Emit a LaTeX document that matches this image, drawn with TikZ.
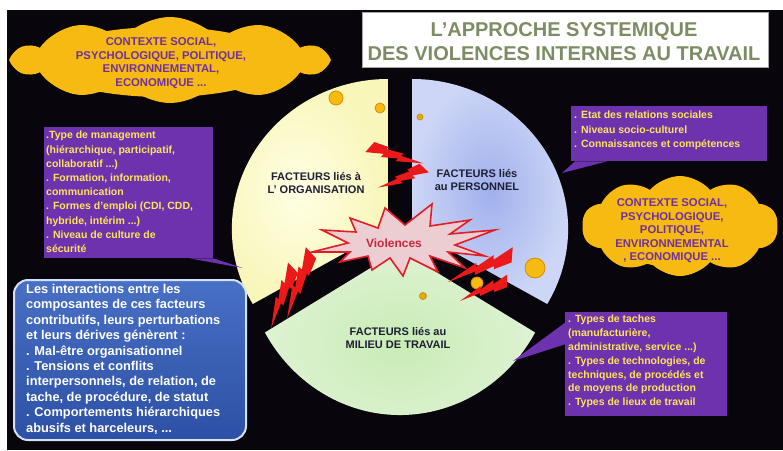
\documentclass[tikz,border=0pt]{standalone}
\usepackage{fontspec}
\setmainfont{Liberation Sans}
\usetikzlibrary{shapes.symbols,calc}
\definecolor{bgc}{RGB}{8,6,12}
\definecolor{gold}{RGB}{246,186,16}
\definecolor{goldline}{RGB}{215,140,10}
\definecolor{cloudpurple}{RGB}{112,48,160}
\definecolor{boxpurple}{RGB}{110,50,175}
\definecolor{ytxt}{RGB}{255,228,90}
\definecolor{titletxt}{RGB}{125,140,100}
\definecolor{labeltxt}{RGB}{30,30,50}
\definecolor{boltred}{RGB}{235,25,25}
\definecolor{starfill}{RGB}{236,205,210}
\definecolor{starline}{RGB}{225,30,40}
\definecolor{startxt}{RGB}{200,40,60}
\tikzset{
  cloudtxt/.style={align=center, text=cloudpurple, font=\fontsize{11.3}{13.5}\selectfont\bfseries, inner sep=0pt},
  ytext/.style={align=left, text=ytxt, font=\fontsize{10.5}{14.2}\selectfont\bfseries, inner sep=0pt, anchor=north west},
  pboxshape/.style={fill=boxpurple, draw=none, anchor=north west, inner sep=0pt},
  goldcloud/.style={cloud, cloud puffs=10, cloud puff arc=100, fill=gold, draw=none, inner sep=0pt},
  piefont/.style={align=center, text=labeltxt, font=\fontsize{11}{12.5}\selectfont\bfseries, inner sep=0pt},
  golddot/.style={circle, fill=gold, draw=goldline, line width=0.8pt, inner sep=0pt},
  boltpic/.pic={\fill[boltred] (0.048,-0.167) -- (-0.053,0.173) -- (0.268,0.071) -- (0.240,0.178) -- (0.538,0.077) -- (0.514,0.166) -- (1,0) -- (0.578,-0.019) -- (0.603,-0.097) -- (0.299,-0.078) -- (0.318,-0.149) -- cycle;}
}
\begin{document}
\begin{tikzpicture}[x=1pt,y=-1pt]
\useasboundingbox (0,0) rectangle (783,450);
\fill[white] (0,0) rectangle (783,450);
\fill[bgc] (7,10) rectangle (783,450);

% title
\node[draw=gray!70, line width=1pt, fill=white, minimum width=406pt, minimum height=55pt, anchor=north west, inner sep=0pt] (titlebox) at (362,12) {};
\node[text=titletxt, font=\fontsize{20}{24}\selectfont\bfseries, inner sep=0pt] (title1) at (564,31) {L’APPROCHE SYSTEMIQUE};
\node[text=titletxt, font=\fontsize{20}{24}\selectfont\bfseries, inner sep=0pt] (title2) at (564,54) {DES VIOLENCES INTERNES AU TRAVAIL};

% top-left cloud
\node[goldcloud, minimum width=312pt, minimum height=86pt] (cloudA) at (170,60) {};
\fill[gold] (163,62) ellipse [x radius=120, y radius=35];
\node[cloudtxt] (cloudAtxt) at (161,63) {CONTEXTE SOCIAL,\\PSYCHOLOGIQUE, POLITIQUE,\\ENVIRONNEMENTAL,\\ECONOMIQUE ...};

% right cloud
\node[goldcloud, minimum width=196pt, minimum height=100pt] (cloudB) at (680,226) {};
\fill[gold] (675,229) ellipse [x radius=70, y radius=38];
\node[cloudtxt] (cloudBtxt) at (672,231) {CONTEXTE SOCIAL,\\PSYCHOLOGIQUE,\\POLITIQUE,\\ENVIRONNEMENTAL\\, ECONOMIQUE ...};

% pie sectors
\coordinate (J) at (400,236);
\coordinate (cy) at ($(J)+(210:14)$);
\coordinate (cb) at ($(J)+(-30:14)$);
\coordinate (cg) at ($(J)+(90:14)$);
\shade[inner color={rgb,255:red,255;green,255;blue,228}, outer color={rgb,255:red,248;green,246;blue,185}]
  (cy) -- ++(150:156 and 150) arc[start angle=150, end angle=270, x radius=156, y radius=150] -- cycle;
\shade[inner color={rgb,255:red,160;green,176;blue,236}, outer color={rgb,255:red,205;green,214;blue,246}]
  (cb) -- ++(-90:156 and 150) arc[start angle=-90, end angle=30, x radius=156, y radius=150] -- cycle;
\shade[inner color={rgb,255:red,200;green,236;blue,182}, outer color={rgb,255:red,222;green,242;blue,210}]
  (cg) -- ++(30:156 and 165) arc[start angle=30, end angle=150, x radius=156, y radius=165] -- cycle;

% gold dots
\node[golddot, minimum size=14pt] (dot1) at (336,98) {};
\node[golddot, minimum size=10pt] (dot2) at (380,108) {};
\node[golddot, minimum size=6pt, fill=gold!80!olive] (dot3) at (420,117) {};
\node[golddot, minimum size=20pt] (dot4) at (535,268) {};
\node[golddot, minimum size=12pt] (dot5) at (477,283) {};
\node[golddot, minimum size=7pt, fill=gold!80!olive] (dot6) at (423,296) {};

% pie labels
\node[piefont] (lblorg) at (316,183) {FACTEURS liés à\\L’ ORGANISATION};
\node[piefont] (lblpers) at (477,180) {FACTEURS liés\\au PERSONNEL};
\node[piefont] (lblmil) at (398,338) {FACTEURS liés au\\MILIEU DE TRAVAIL};

% violences star
\filldraw[fill=starfill, draw=starline, line width=1.6pt, line join=miter]
 (312,252) -- (348,243) -- (322,230) -- (356,232) -- (350,218) -- (378,228) -- (385,208) -- (405,225)
 -- (432,204) -- (430,226) -- (470,220) -- (450,234) -- (495,230) -- (455,245) -- (485,256) -- (448,252)
 -- (465,268) -- (430,256) -- (438,272) -- (410,258) -- (403,276) -- (390,258) -- (372,270) -- (368,256)
 -- (340,262) -- (350,252) -- cycle;
\node[text=startxt, font=\fontsize{12}{14}\selectfont\bfseries, inner sep=0pt] (viol) at (394,243) {Violences};

% bolts (angle measured with y pointing down -> rotate=-angle)
\pic[rotate=-17, xscale=56, yscale=36] (bolt1) at (370,147) {boltpic};
\pic[rotate=-157, xscale=50, yscale=-34] (bolt2) at (424,168) {boltpic};
\pic[rotate=-110, xscale=70, yscale=40] (bolt3) at (311,253) {boltpic};
\pic[rotate=-110, xscale=64, yscale=38] (bolt4) at (293,268) {boltpic};
\pic[rotate=-157, xscale=70, yscale=40] (bolt5) at (512,255) {boltpic};
\pic[rotate=-157, xscale=51, yscale=34] (bolt6) at (507,281) {boltpic};

% left purple box
\node[pboxshape, minimum width=169pt, minimum height=131pt] (boxL) at (44,127) {};
\fill[boxpurple] ($(boxL.south east)+(-24,0)$) -- (243,268) -- (boxL.south east) -- cycle;
\node[ytext] (boxLtxt) at (46,131) {.Type de management\\(hiérarchique, participatif,\\collaboratif ...)\\. Formation, information,\\communication\\. Formes d’emploi (CDI, CDD,\\hybride, intérim ...)\\. Niveau de culture de\\sécurité};

% right purple box
\node[pboxshape, minimum width=196pt, minimum height=55pt] (boxR) at (571,106) {};
\fill[boxpurple] ($(boxR.south west)+(4,0)$) -- (562,173) -- ($(boxR.south west)+(36,0)$) -- cycle;
\node[ytext] (boxRtxt) at (574,111) {. Etat des relations sociales\\. Niveau socio-culturel\\. Connaissances et compétences};

% bottom-right purple box
\node[pboxshape, minimum width=162pt, minimum height=104pt] (boxM) at (565,312) {};
\fill[boxpurple] ($(boxM.north west)+(1,10)$) -- (513,361) -- ($(boxM.north west)+(1,32)$) -- cycle;
\node[ytext, font=\fontsize{10.5}{13.8}\selectfont\bfseries] (boxMtxt) at (568,315) {. Types de taches\\(manufacturière,\\administrative, service ...)\\. Types de technologies, de\\techniques, de procédés et\\de moyens de production\\. Types de lieux de travail};

% bottom-left blue box
\node[anchor=north west, minimum width=232pt, minimum height=160pt, rounded corners=14pt, draw={rgb,255:red,215;green,225;blue,245}, line width=2pt,
  top color={rgb,255:red,72;green,112;blue,196}, bottom color={rgb,255:red,44;green,80;blue,165}, inner sep=0pt] (boxB) at (13,279) {};
\node[anchor=north west, align=left, text=white, font=\fontsize{12.8}{15.4}\selectfont\bfseries, inner sep=0pt] (boxBtxt) at (26,284)
 {Les interactions entre les\\composantes de ces facteurs\\contributifs, leurs perturbations\\et leurs dérives génèrent :\\. Mal-être organisationnel\\. Tensions et conflits\\interpersonnels, de relation, de\\tache, de procédure, de statut\\. Comportements hiérarchiques\\abusifs et harceleurs, ...};
\end{tikzpicture}
\end{document}
